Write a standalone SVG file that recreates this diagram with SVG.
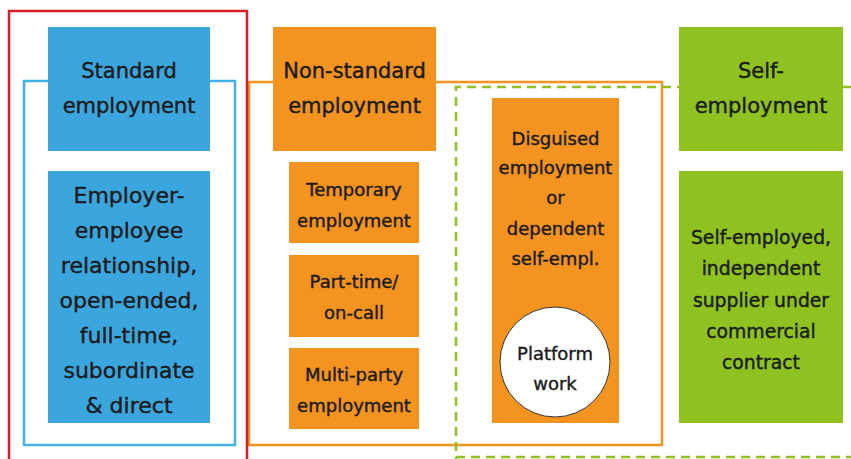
<svg xmlns="http://www.w3.org/2000/svg" width="851" height="459" viewBox="0 0 851 459">
<style>
.t{font-family:"DejaVu Sans","Liberation Sans",sans-serif;fill:#1b1b1b;stroke:#1b1b1b;stroke-width:0.4;text-anchor:middle}
.h{font-size:21px}
.b{font-size:22px}
.s{font-size:18px}
.s2{font-size:18.8px}
.blue{fill:#3ba6de}
.orange{fill:#f4931f}
.green{fill:#8fc221}
.frame{fill:none}
</style>
<rect width="851" height="459" fill="#ffffff"/>
<g id="frames">
<rect class="frame" x="24" y="81" width="211" height="364" stroke="#45b0e6" stroke-width="2.5"/>
<rect class="frame" x="249" y="82" width="413" height="363" stroke="#f4931f" stroke-width="2.5"/>
<path class="frame" d="M851 87 H456 V459 M456 457 H851" stroke="#8fc221" stroke-width="2.5" stroke-dasharray="9 6"/>
<rect class="frame" x="9" y="11" width="238" height="460" stroke="#d51f26" stroke-width="2.5"/>
</g>
<g id="standard">
<rect class="blue" x="48" y="27" width="162" height="124"/>
<text class="t h" x="129" y="78">Standard</text>
<text class="t h" x="129" y="113">employment</text>
</g>
<g id="standard-detail">
<rect class="blue" x="48" y="171" width="162" height="252"/>
<text class="t b" x="129" y="203">Employer-</text>
<text class="t b" x="129" y="238">employee</text>
<text class="t b" x="129" y="273">relationship,</text>
<text class="t b" x="129" y="308">open-ended,</text>
<text class="t b" x="129" y="343">full-time,</text>
<text class="t b" x="129" y="378">subordinate</text>
<text class="t b" x="129" y="413">&amp; direct</text>
</g>
<g id="nonstandard">
<rect class="orange" x="273" y="27" width="163" height="124"/>
<text class="t h" x="354.5" y="78">Non-standard</text>
<text class="t h" x="354.5" y="113">employment</text>
</g>
<g id="temporary">
<rect class="orange" x="289" y="162" width="130" height="81"/>
<text class="t s" x="354" y="196">Temporary</text>
<text class="t s" x="354" y="227">employment</text>
</g>
<g id="parttime">
<rect class="orange" x="289" y="255" width="130" height="82"/>
<text class="t s" x="354" y="288">Part-time/</text>
<text class="t s" x="354" y="319">on-call</text>
</g>
<g id="multiparty">
<rect class="orange" x="289" y="348" width="130" height="81"/>
<text class="t s" x="354" y="381">Multi-party</text>
<text class="t s" x="354" y="412">employment</text>
</g>
<g id="disguised">
<rect class="orange" x="492" y="98" width="127" height="325"/>
<text class="t s" x="555.5" y="145">Disguised</text>
<text class="t s" x="555.5" y="174">employment</text>
<text class="t s" x="555.5" y="204">or</text>
<text class="t s" x="555.5" y="235">dependent</text>
<text class="t s" x="555.5" y="265">self-empl.</text>
</g>
<g id="platform">
<circle cx="555" cy="362" r="55" fill="#ffffff" stroke="#333333" stroke-width="1"/>
<text class="t s" x="555" y="360">Platform</text>
<text class="t s" x="555" y="390">work</text>
</g>
<g id="selfemployment">
<rect class="green" x="679" y="27" width="164" height="124"/>
<text class="t h" x="761" y="78">Self-</text>
<text class="t h" x="761" y="113">employment</text>
</g>
<g id="selfemployed">
<rect class="green" x="679" y="171" width="164" height="252"/>
<text class="t s2" x="761" y="244">Self-employed,</text>
<text class="t s2" x="761" y="275">independent</text>
<text class="t s2" x="761" y="307">supplier under</text>
<text class="t s2" x="761" y="338">commercial</text>
<text class="t s2" x="761" y="369">contract</text>
</g>
</svg>
